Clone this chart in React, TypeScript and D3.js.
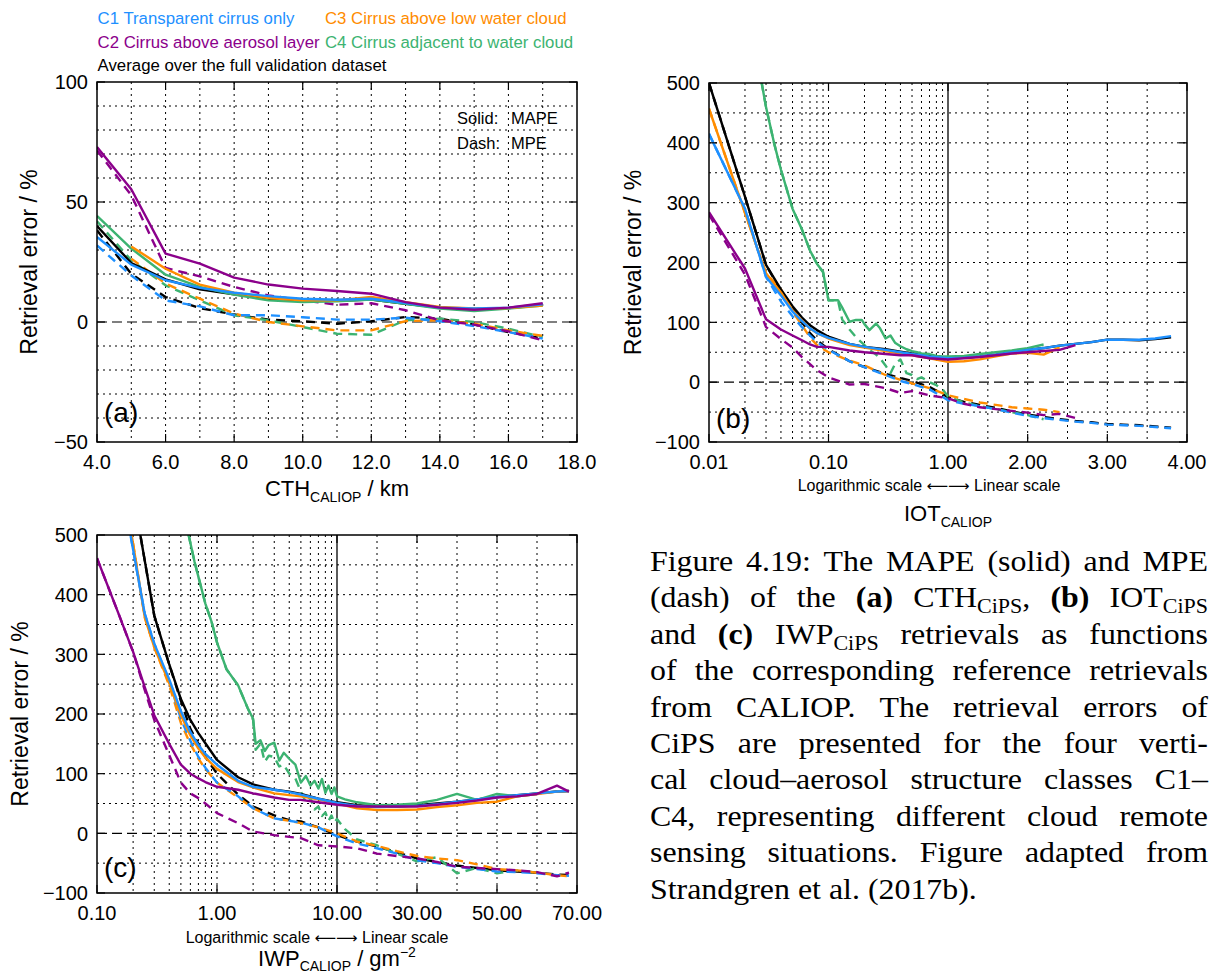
import React, { useMemo } from "react";
import * as d3 from "d3";

// ---------------- colours ----------------
const COL_C1 = "#1e90ff";
const COL_C2 = "#8b008b";
const COL_C3 = "#ff8c00";
const COL_C4 = "#3cb371";
const COL_ALL = "#000000";

// ---------------- panel (a): CTH ----------------
const CTH_KM = [4, 5, 6, 7, 8, 9, 10, 11, 12, 13, 14, 15, 16, 17];
const A_MAPE_C1 = [35.4, 23.9, 17.4, 14.2, 12.2, 10.8, 9.7, 9.3, 9.7, 7.9, 6.0, 5.6, 6.0, 7.4];
const A_MAPE_C2 = [72.9, 55.3, 28.5, 24.3, 18.5, 15.6, 13.9, 12.9, 11.8, 8.3, 6.0, 5.1, 6.0, 7.8];
const A_MAPE_C3 = [null, 31.5, 22.2, 15.6, 12.2, 10.0, 9.0, 9.0, 10.4, 8.3, 6.3, 5.6, 5.8, 6.9];
const A_MAPE_C4 = [44.2, 30.6, 19.7, 14.6, 11.4, 9.0, 8.3, 8.6, 9.4, 7.6, 5.6, 4.6, 5.6, 6.9];
const A_MAPE_ALL = [40.0, 24.6, 17.8, 13.6, 11.5, 9.7, 9.0, 8.8, 9.4, 7.6, 6.0, 5.3, 5.8, 7.2];
const A_MPE_C1 = [31.9, 19.4, 9.0, 6.5, 2.8, 2.8, 2.0, 1.0, 1.0, 1.8, 0.3, -1.7, -4.2, -6.9];
const A_MPE_C2 = [71.5, 52.8, 22.5, 19.0, 14.6, 11.1, 9.0, 7.2, 7.8, 4.9, 0.7, -1.1, -3.9, -7.6];
const A_MPE_C3 = [null, 26.4, 16.0, 9.7, 3.5, 0.0, -1.8, -3.5, -3.5, 0.4, 0.7, -0.7, -3.5, -5.8];
const A_MPE_C4 = [42.0, 25.7, 15.3, 9.0, 2.8, 0.7, -2.1, -4.9, -5.3, 0.7, 1.4, 0.0, -2.8, -6.3];
const A_MPE_ALL = [38.2, 20.1, 10.4, 5.8, 3.1, 1.0, 0.3, -0.7, 0.3, 2.1, 1.4, -1.1, -4.2, -6.9];
const A_X_TICKS = [4, 6, 8, 10, 12, 14, 16, 18];
const A_Y_TICKS = [100, 50, 0, -50];

// ---------------- panel (b): IOT ----------------
const IOT_X = [0.01, 0.02, 0.03, 0.04, 0.05, 0.06, 0.07, 0.08, 0.1, 0.15, 0.2, 0.3, 0.4, 0.5, 0.7, 1.0,
  1.2, 1.4, 1.6, 1.8, 2.0, 2.2, 2.4, 2.6, 2.8, 3.0, 3.2, 3.4, 3.6, 3.8];
const B_MAPE_ALL = [500, 310, 196, 155, 127, 108, 95, 87, 76, 64, 59, 55, 51, 48, 44, 41,
  41, 43, 46, 50, 54, 57, 61, 64, 67, 71, 71, 70, 72, 75];
const B_MAPE_C1 = [415, 290, 176, 145, 118, 102, 90, 82, 74, 64, 59, 54, 50, 47, 43, 40,
  41, 43, 46, 50, 54, 57, 61, 64, 67, 71, 71, 71, 73, 77];
const B_MAPE_C3 = [457, 283, 182, 150, 120, 103, 90, 82, 73, 62, 58, 52, 48, 45, 40, 34,
  35, 38, 43, 48, 49, 46, 58, null, null, null, null, null, null, null];
const B_MAPE_C2 = [284, 190, 105, 88, 78, 70, 63, 59, 59, 53, 50, 47, 45, 45, 40, 38,
  40, 42, 45, 48, 50, 52, 54, 62, null, null, null, null, null, null];
const B_MPE_ALL = [500, 310, 196, 152, 125, 100, 82, 70, 55, 35, 25, 14, 7, 2, -8, -25,
  -33, -38, -43, -49, -54, -58, -62, -65, -67, -70, -71, -72, -74, -76];
const B_MPE_C1 = [415, 290, 176, 135, 110, 92, 78, 67, 54, 35, 25, 12, 2, -3, -12, -30,
  -36, -40, -45, -51, -56, -60, -63, -66, -68, -71, -72, -73, -75, -77];
const B_MPE_C3 = [457, 283, 182, 155, 118, 95, 75, 62, 50, 36, 28, 12, 4, -2, -10, -22,
  -28, -34, -38, -42, -44, -46, -50, null, null, null, null, null, null, null];
const B_MPE_C2 = [280, 180, 92, 72, 58, 42, 30, 20, 8, -4, -3, -10, -18, -15, -22, -27,
  -36, -42, -45, -48, -51, -55, -53, -60, null, null, null, null, null, null];
const IOT_X_C4 = [0.0276, 0.03, 0.035, 0.04, 0.05, 0.06, 0.07, 0.08, 0.09, 0.1, 0.12, 0.13, 0.15, 0.17,
  0.19, 0.2, 0.22, 0.25, 0.27, 0.3, 0.33, 0.36, 0.4, 0.45, 0.5, 0.55, 0.6, 0.7, 0.8, 0.9, 1.0,
  1.2, 1.4, 1.6, 1.8, 2.0, 2.2];
const B_MAPE_C4 = [500, 460, 400, 355, 290, 255, 220, 198, 184, 137, 137, 125, 101, 104, 104, 97, 87,
  98, 90, 73, 78, 66, 60, 55, 52, 50, 48, 47, 44, 43, 43, 44, 47, 50, 53, 57, 63];
const B_MPE_C4 = [500, 460, 400, 355, 290, 255, 220, 198, 184, 137, 137, 105, 88, 75, 66, 62, 54,
  46, 40, 28, 15, 30, 38, 15, 12, 5, 8, 0, -5, -12, -24, -34, -40, -45, -50, -55, -62];
const B_X_TICKS = [0.01, 0.1, 1, 2, 3, 4];
const B_Y_TICKS = [500, 400, 300, 200, 100, 0, -100];

// ---------------- panel (c): IWP ----------------
const IWP_X = [0.1, 0.15, 0.2, 0.25, 0.3, 0.4, 0.5, 0.6, 0.7, 0.8, 1.0, 1.5, 2, 3, 4, 5, 7, 10,
  15, 20, 25, 30, 35, 40, 45, 50, 55, 60, 65, 68];
const C_MAPE_ALL = [null, null, 570, 457, 365, 283, 225, 190, 168, 151, 123, 94, 82, 73, 70, 66, 58, 52,
  47, 45, 45, 47, 50, 53, 57, 61, 64, 67, 70, 71];
const C_MAPE_C1 = [null, 620, 475, 368, 318, 258, 205, 170, 148, 133, 115, 88, 78, 73, 69, 65, 58, 51,
  46, 44, 45, 46, 49, 53, 57, 61, 64, 67, 70, 71];
const C_MAPE_C3 = [null, 635, 485, 362, 312, 252, 198, 164, 142, 127, 108, 86, 77, 67, 64, 62, 57, 50,
  42, 39, 39, 40, 44, 47, 51, 53, 62, 66, 70, 71];
const C_MAPE_C2 = [461, 370, 304, 245, 198, 150, 115, 100, 92, 86, 78, 73, 67, 60, 56, 56, 52, 48,
  45, 45, 45, 45, 48, 51, 55, 60, 62, 66, 80, 70];
const C_MPE_ALL = [null, null, 570, 457, 365, 283, 222, 175, 150, 128, 100, 65, 45, 30, 22, 20, 10, -3,
  -14, -22, -32, -42, -48, -54, -58, -62, -64, -66, -69, -70];
const C_MPE_C1 = [null, 620, 475, 368, 318, 255, 192, 155, 128, 110, 85, 62, 42, 25, 21, 18, 10, -5,
  -17, -25, -34, -45, -50, -56, -60, -64, -65, -67, -70, -71];
const C_MPE_C3 = [null, 635, 485, 362, 312, 248, 185, 150, 125, 108, 85, 60, 42, 25, 21, 17, 10, 0,
  -14, -21, -30, -38, -42, -45, -52, -60, -62, -66, -70, -72];
const C_MPE_C2 = [461, 370, 304, 240, 190, 131, 85, 67, 59, 50, 34, 17, 3, -3, -6, -8, -20, -22,
  -25, -34, -38, -42, -48, -56, -58, -60, -62, -65, -72, -66];
const IWP_X_C4 = [0.58, 0.65, 0.8, 0.9, 1.0, 1.2, 1.5, 1.8, 2.0, 2.1, 2.3, 2.5, 2.7, 3.0, 3.3, 3.6, 4.0,
  4.5, 5, 5.5, 6, 6.5, 7, 7.5, 8, 8.5, 9, 9.5, 10, 12, 15, 20, 25, 30, 35, 40, 45, 50, 55, 60];
const C_MAPE_C4 = [500, 455, 385, 355, 320, 275, 248, 210, 192, 150, 156, 138, 148, 152, 122, 135, 125,
  115, 85, 96, 80, 88, 75, 91, 68, 80, 66, 77, 62, 57, 52, 47, 48, 50, 56, 66, 56, 66, 62, 66];
const C_MPE_C4 = [500, 455, 385, 355, 320, 275, 248, 210, 190, 140, 150, 120, 130, 128, 112, 115, 100,
  92, 70, 52, 60, 40, 45, 29, 35, 21, 30, 18, 24, 7, -10, -20, -34, -47, -40, -67, -58, -67, -62, -66];
const C_X_TICKS = [0.1, 1, 10, 30, 50, 70];
const C_Y_TICKS = [500, 400, 300, 200, 100, 0, -100];

// ---------------- text ----------------
const LEGEND = [
  { text: "C1 Transparent cirrus only", color: COL_C1, col: 0, row: 0 },
  { text: "C3 Cirrus above low water cloud", color: COL_C3, col: 1, row: 0 },
  { text: "C2 Cirrus above aerosol layer", color: COL_C2, col: 0, row: 1 },
  { text: "C4 Cirrus adjacent to water cloud", color: COL_C4, col: 1, row: 1 },
  { text: "Average over the full validation dataset", color: COL_ALL, col: 0, row: 2 },
];
const CAPTION_LINES = [
  "Figure 4.19: The MAPE (solid) and MPE",
  "(dash) of the **(a)** CTH_{CiPS}, **(b)** IOT_{CiPS}",
  "and **(c)** IWP_{CiPS} retrievals as functions",
  "of the corresponding reference retrievals",
  "from CALIOP. The retrieval errors of",
  "CiPS are presented for the four verti-",
  "cal cloud\u2013aerosol structure classes C1\u2013",
  "C4, representing different cloud remote",
  "sensing situations. Figure adapted from",
  "Strandgren et al. (2017b).",
];

const SANS = '"Liberation Sans", Arial, Helvetica, sans-serif';
const SERIF = '"Liberation Serif", "Times New Roman", serif';

type Pt = [number, number | null];
type Series = { x: number[]; y: (number | null)[]; color: string; dashed: boolean };
type Panel = {
  id: string;
  x0: number; x1: number; y0: number; y1: number;
  xs: (v: number) => number;
  ys: d3.ScaleLinear<number, number>;
  vGrid: number[]; hGrid: number[];
  boundary: number | null;
  xTicks: number[]; xDigits: number;
  yTicks: number[];
  series: Series[];
};

function piecewise(logDom: [number, number], linDom: [number, number], x0: number, xm: number, x1: number) {
  const lg = d3.scaleLog().domain(logDom).range([x0, xm]);
  const ln = d3.scaleLinear().domain(linDom).range([xm, x1]);
  return (v: number) => (v <= logDom[1] ? lg(v) : ln(v));
}

function mkSeries(x: number[], mape: (number | null)[], mpe: (number | null)[], color: string) {
  return {
    solid: { x, y: mape, color, dashed: false } as Series,
    dash: { x, y: mpe, color, dashed: true } as Series,
  };
}

function orderSeries(list: { solid: Series; dash: Series }[]) {
  return [...list.map((s) => s.dash), ...list.map((s) => s.solid)];
}

function buildPanels(): Panel[] {
  const A: Panel = {
    id: "a", x0: 97, x1: 577, y0: 82, y1: 442,
    xs: d3.scaleLinear().domain([4, 18]).range([97, 577]),
    ys: d3.scaleLinear().domain([-50, 100]).range([442, 82]),
    vGrid: d3.range(5, 18), hGrid: d3.range(-40, 100, 10).filter((v) => v !== 0),
    boundary: null, xTicks: A_X_TICKS, xDigits: 1, yTicks: A_Y_TICKS,
    series: orderSeries([
      mkSeries(CTH_KM, A_MAPE_ALL, A_MPE_ALL, COL_ALL),
      mkSeries(CTH_KM, A_MAPE_C4, A_MPE_C4, COL_C4),
      mkSeries(CTH_KM, A_MAPE_C3, A_MPE_C3, COL_C3),
      mkSeries(CTH_KM, A_MAPE_C1, A_MPE_C1, COL_C1),
      mkSeries(CTH_KM, A_MAPE_C2, A_MPE_C2, COL_C2),
    ]),
  };
  const bLog = [...d3.range(2, 10).map((k) => k * 0.01), ...d3.range(1, 10).map((k) => k * 0.1)];
  const B: Panel = {
    id: "b", x0: 709, x1: 1187, y0: 83, y1: 442,
    xs: piecewise([0.01, 1], [1, 4], 709, 948, 1187),
    ys: d3.scaleLinear().domain([-100, 500]).range([442, 83]),
    vGrid: [...bLog, 1.5, 2, 2.5, 3, 3.5], hGrid: d3.range(-50, 500, 50).filter((v) => v !== 0),
    boundary: 1, xTicks: B_X_TICKS, xDigits: 2, yTicks: B_Y_TICKS,
    series: orderSeries([
      mkSeries(IOT_X, B_MAPE_ALL, B_MPE_ALL, COL_ALL),
      mkSeries(IOT_X_C4, B_MAPE_C4, B_MPE_C4, COL_C4),
      mkSeries(IOT_X, B_MAPE_C3, B_MPE_C3, COL_C3),
      mkSeries(IOT_X, B_MAPE_C1, B_MPE_C1, COL_C1),
      mkSeries(IOT_X, B_MAPE_C2, B_MPE_C2, COL_C2),
    ]),
  };
  const cLog = [...d3.range(2, 10).map((k) => k * 0.1), ...d3.range(1, 10)];
  const C: Panel = {
    id: "c", x0: 97, x1: 577, y0: 535, y1: 893,
    xs: piecewise([0.1, 10], [10, 70], 97, 337, 577),
    ys: d3.scaleLinear().domain([-100, 500]).range([893, 535]),
    vGrid: [...cLog, 20, 30, 40, 50, 60], hGrid: d3.range(-50, 500, 50).filter((v) => v !== 0),
    boundary: 10, xTicks: C_X_TICKS, xDigits: 2, yTicks: C_Y_TICKS,
    series: orderSeries([
      mkSeries(IWP_X, C_MAPE_ALL, C_MPE_ALL, COL_ALL),
      mkSeries(IWP_X_C4, C_MAPE_C4, C_MPE_C4, COL_C4),
      mkSeries(IWP_X, C_MAPE_C3, C_MPE_C3, COL_C3),
      mkSeries(IWP_X, C_MAPE_C1, C_MPE_C1, COL_C1),
      mkSeries(IWP_X, C_MAPE_C2, C_MPE_C2, COL_C2),
    ]),
  };
  return [A, B, C];
}

const fmt = (v: number, d: number) => v.toFixed(d).replace("-", "\u2212");

function PanelView({ p }: { p: Panel }) {
  const gen = d3
    .line<Pt>()
    .defined((d) => d[1] !== null && d[1] !== undefined)
    .x((d) => p.xs(d[0]))
    .y((d) => p.ys(d[1] as number));
  const zeroY = p.ys(0);
  const tick = 8;
  return (
    <g>
      <defs>
        <clipPath id={`clip-${p.id}`}>
          <rect x={p.x0} y={p.y0} width={p.x1 - p.x0} height={p.y1 - p.y0} />
        </clipPath>
      </defs>
      {p.vGrid.map((v, i) => (
        <line key={`vg${i}`} x1={p.xs(v)} x2={p.xs(v)} y1={p.y0} y2={p.y1}
          stroke="#000" strokeWidth={1} strokeDasharray="2,4" />
      ))}
      {p.hGrid.map((v, i) => (
        <line key={`hg${i}`} x1={p.x0} x2={p.x1} y1={p.ys(v)} y2={p.ys(v)}
          stroke="#000" strokeWidth={1} strokeDasharray="2,4" />
      ))}
      <line x1={p.x0} x2={p.x1} y1={zeroY} y2={zeroY} stroke="#000" strokeWidth={1.2} strokeDasharray="10,5" />
      {p.boundary !== null && (
        <line x1={p.xs(p.boundary)} x2={p.xs(p.boundary)} y1={p.y0} y2={p.y1} stroke="#000" strokeWidth={1.3} />
      )}
      <g clipPath={`url(#clip-${p.id})`}>
        {p.series.map((s, i) => (
          <path key={`s${i}`} d={gen(s.x.map((xv, j) => [xv, s.y[j]] as Pt)) || ""}
            fill="none" stroke={s.color} strokeWidth={2.4} strokeLinejoin="round"
            strokeDasharray={s.dashed ? "9,6" : undefined} />
        ))}
      </g>
      <rect x={p.x0} y={p.y0} width={p.x1 - p.x0} height={p.y1 - p.y0} fill="none" stroke="#000" strokeWidth={1.5} />
      {p.xTicks.map((v, i) => (
        <g key={`xt${i}`}>
          <line x1={p.xs(v)} x2={p.xs(v)} y1={p.y1} y2={p.y1 - tick} stroke="#000" strokeWidth={1.2} />
          <line x1={p.xs(v)} x2={p.xs(v)} y1={p.y0} y2={p.y0 + tick} stroke="#000" strokeWidth={1.2} />
          <text x={p.xs(v)} y={p.y1 + 27} textAnchor="middle" fontFamily={SANS} fontSize={20}>
            {fmt(v, p.xDigits)}
          </text>
        </g>
      ))}
      {p.yTicks.map((v, i) => (
        <g key={`yt${i}`}>
          <line x1={p.x0} x2={p.x0 + tick} y1={p.ys(v)} y2={p.ys(v)} stroke="#000" strokeWidth={1.2} />
          <line x1={p.x1} x2={p.x1 - tick} y1={p.ys(v)} y2={p.ys(v)} stroke="#000" strokeWidth={1.2} />
          <text x={p.x0 - 9} y={p.ys(v)} dy="0.36em" textAnchor="end" fontFamily={SANS} fontSize={20}>
            {fmt(v, 0)}
          </text>
        </g>
      ))}
    </g>
  );
}

// ---------------- caption layout ----------------
type Run = { t: string; b?: boolean; sub?: boolean };
let measureCtx: CanvasRenderingContext2D | null = null;
const CAP_SIZE = 29;
const SUB_SIZE = 20;
const STRETCH = 1.1;
function runWidth(r: Run) {
  if (!measureCtx) measureCtx = document.createElement("canvas").getContext("2d");
  if (!measureCtx) return r.t.length * 12;
  measureCtx.font = `${r.b ? "bold " : ""}${r.sub ? SUB_SIZE : CAP_SIZE}px ${SERIF}`;
  return measureCtx.measureText(r.t).width;
}
function parseWord(w: string): Run[] {
  return w
    .split(/(\*\*[^*]+\*\*|_\{[^}]+\})/)
    .filter((s) => s.length > 0)
    .map((s) =>
      s.startsWith("**") ? { t: s.slice(2, -2), b: true } : s.startsWith("_{") ? { t: s.slice(2, -1), sub: true } : { t: s }
    );
}
function layoutCaption(x0: number, x1: number) {
  const width = x1 - x0;
  return CAPTION_LINES.map((line, li) => {
    const words = line.split(" ").map(parseWord);
    const raw = words.map((runs) => runs.reduce((a, r) => a + runWidth(r), 0));
    const rawTotal = raw.reduce((a, b) => a + b, 0);
    const n = words.length;
    const sx = Math.min(STRETCH, (width - (n - 1) * 6) / rawTotal);
    const ws = raw.map((w) => w * sx);
    const total = rawTotal * sx;
    const last = li === CAPTION_LINES.length - 1;
    const gap = last || n < 2 ? runWidth({ t: " " }) * sx : (width - total) / (n - 1);
    let x = x0;
    return words.map((runs, wi) => {
      const item = { runs, x, sx };
      x += ws[wi] + gap;
      return item;
    });
  });
}

export default function App() {
  const panels = useMemo(() => buildPanels(), []);
  const caption = useMemo(() => layoutCaption(650, 1208), []);
  const legendX = [97.6, 325];
  const legendY = [24, 47.5, 71];
  return (
    <svg width={1212} height={977} viewBox="0 0 1212 977"
      style={{ position: "absolute", left: 0, top: 0, display: "block", background: "#fff" }}>
      <rect x={0} y={0} width={1212} height={977} fill="#fff" />
      {LEGEND.map((l, i) => (
        <text key={i} x={legendX[l.col]} y={legendY[l.row]} fill={l.color} fontFamily={SANS} fontSize={16.8}>
          {l.text}
        </text>
      ))}
      {panels.map((p) => (
        <PanelView key={p.id} p={p} />
      ))}
      {/* panel (a) annotations */}
      <text x={457} y={124} fontFamily={SANS} fontSize={16.5}>Solid:</text>
      <text x={511} y={124} fontFamily={SANS} fontSize={16.5}>MAPE</text>
      <text x={457} y={149} fontFamily={SANS} fontSize={16.5}>Dash:</text>
      <text x={511} y={149} fontFamily={SANS} fontSize={16.5}>MPE</text>
      <text x={104} y={422} fontFamily={SANS} fontSize={28}>(a)</text>
      <text x={716} y={428} fontFamily={SANS} fontSize={28}>(b)</text>
      <text x={104} y={877} fontFamily={SANS} fontSize={28}>(c)</text>
      {/* axis titles */}
      <text transform="translate(37,262) rotate(-90)" textAnchor="middle" fontFamily={SANS} fontSize={23}>Retrieval error / %</text>
      <text transform="translate(641,262.5) rotate(-90)" textAnchor="middle" fontFamily={SANS} fontSize={23}>Retrieval error / %</text>
      <text transform="translate(28,714) rotate(-90)" textAnchor="middle" fontFamily={SANS} fontSize={23}>Retrieval error / %</text>
      <text x={337} y={496} textAnchor="middle" fontFamily={SANS} fontSize={22}>
        CTH<tspan fontSize={14} dy={6}>CALIOP</tspan><tspan dy={-6}> / km</tspan>
      </text>
      <text x={929} y={491} textAnchor="middle" fontFamily={SANS} fontSize={16}>
        Logarithmic scale <tspan fontFamily='"DejaVu Sans", sans-serif' fontSize={15}>{"\u27F5\u27F6"}</tspan> Linear scale
      </text>
      <text x={948} y={521} textAnchor="middle" fontFamily={SANS} fontSize={22}>
        IOT<tspan fontSize={14} dy={6}>CALIOP</tspan>
      </text>
      <text x={317} y={943} textAnchor="middle" fontFamily={SANS} fontSize={16}>
        Logarithmic scale <tspan fontFamily='"DejaVu Sans", sans-serif' fontSize={15}>{"\u27F5\u27F6"}</tspan> Linear scale
      </text>
      <text x={337} y={966} textAnchor="middle" fontFamily={SANS} fontSize={22}>
        IWP<tspan fontSize={14} dy={5}>CALIOP</tspan><tspan dy={-5}> / gm</tspan>
        <tspan fontSize={14} dy={-9}>{"\u22122"}</tspan>
      </text>
      {/* caption */}
      {caption.map((words, li) =>
        words.map((w, wi) => {
          let off = 0;
          return (
            <text key={`c${li}-${wi}`} transform={`translate(${w.x},${571 + li * 36.4}) scale(${w.sx},1)`}
              fontFamily={SERIF} fontSize={CAP_SIZE}>
              {w.runs.map((r, ri) => {
                const target = r.sub ? 6 : 0;
                const dy = target - off;
                off = target;
                return (
                  <tspan key={ri} dy={dy} fontWeight={r.b ? "bold" : undefined} fontSize={r.sub ? SUB_SIZE : undefined}>
                    {r.t}
                  </tspan>
                );
              })}
            </text>
          );
        })
      )}
    </svg>
  );
}
